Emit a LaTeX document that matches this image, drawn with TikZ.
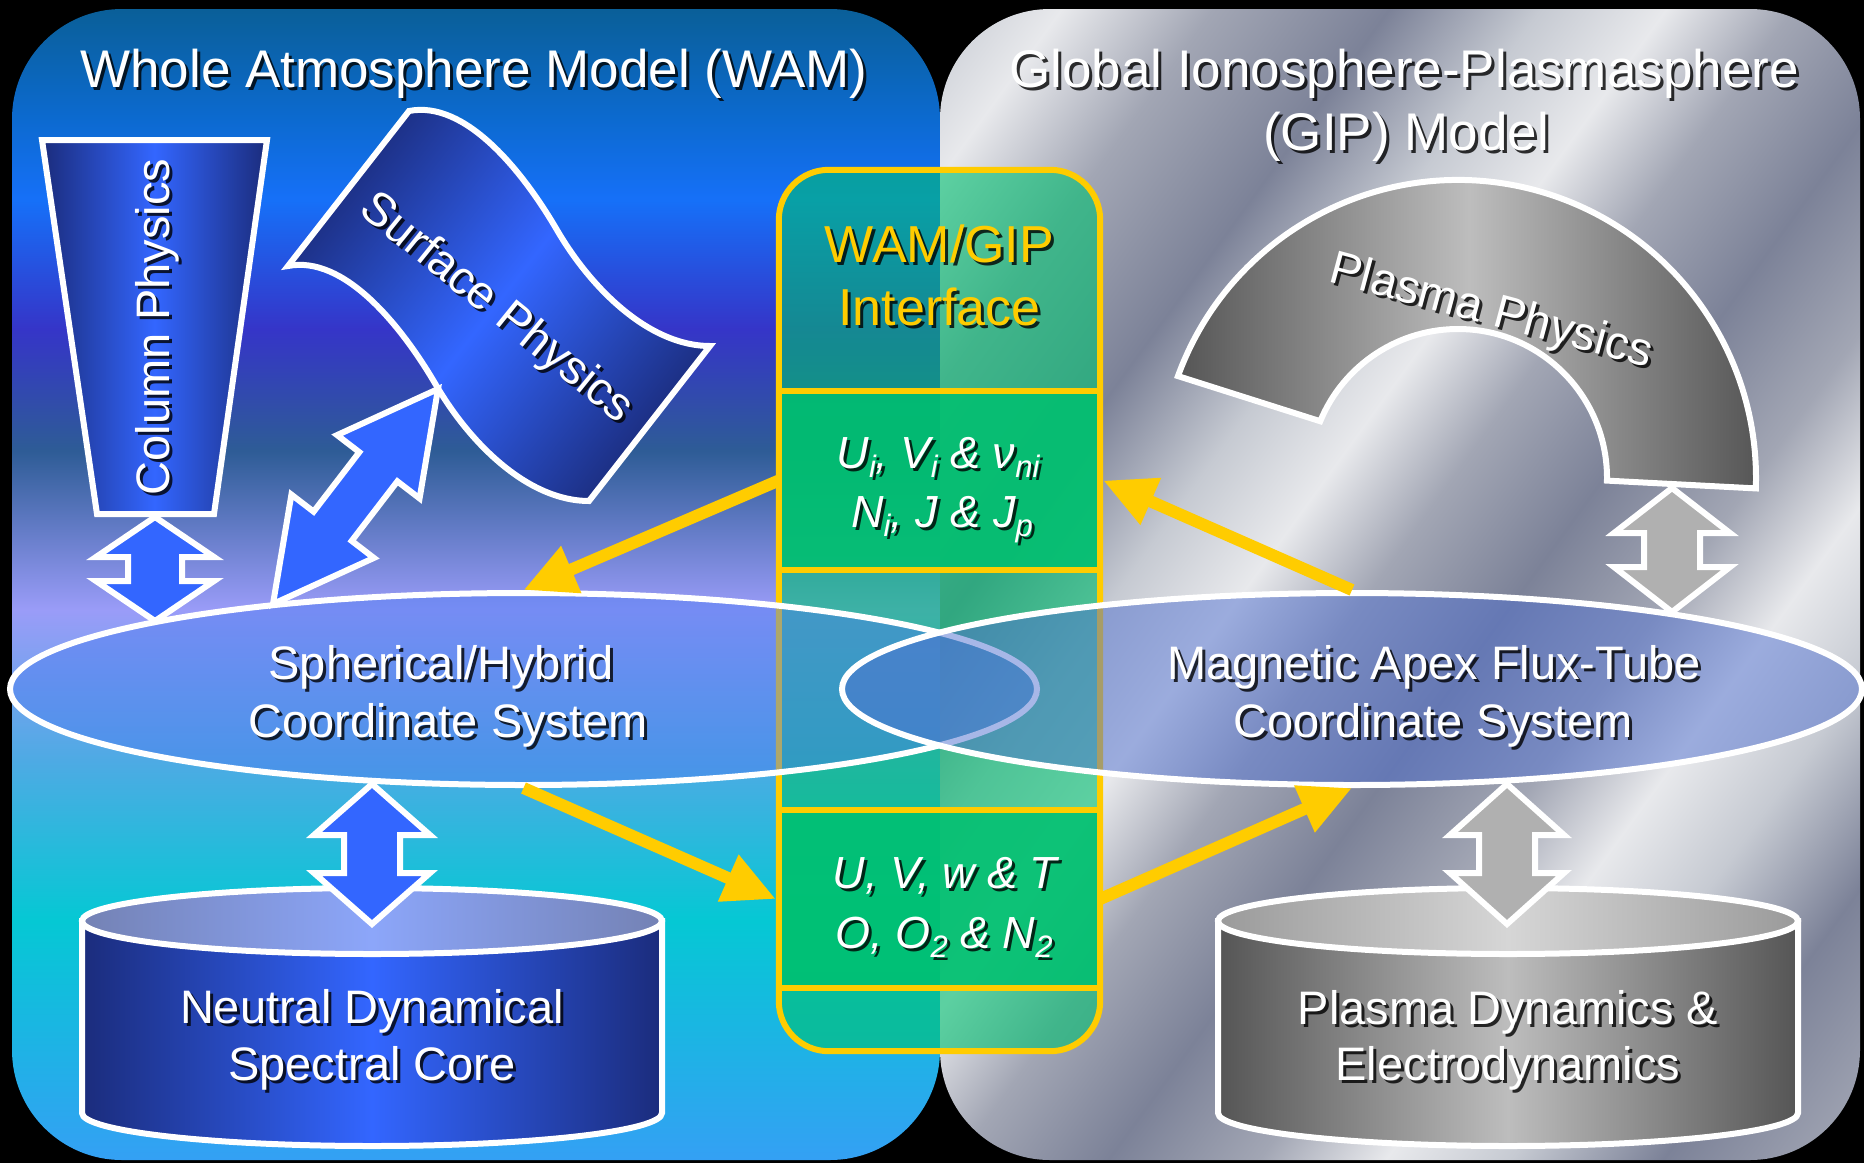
\documentclass[tikz,border=0pt]{standalone}
\usepackage{fontspec}
\setmainfont{Liberation Sans}
\usetikzlibrary{calc,arrows.meta,shapes.geometric}

% panel colours
\definecolor{lbA}{HTML}{0A5F98}
\definecolor{lbB}{HTML}{0C6AD0}
\definecolor{lbC}{HTML}{1670F8}
\definecolor{lbD}{HTML}{3535C8}
\definecolor{lbE}{HTML}{2E5C96}
\definecolor{lbF}{HTML}{9A9CF8}
\definecolor{lbG}{HTML}{4EAAE4}
\definecolor{lbH}{HTML}{05C8D4}
\definecolor{lbI}{HTML}{34A0F4}
\definecolor{metA}{HTML}{A2A6B4}
\definecolor{metB}{HTML}{7C8298}
\definecolor{metC}{HTML}{C6CAD2}
\definecolor{metD}{HTML}{E8E9EC}
% object colours
\definecolor{navyE}{HTML}{1B2C7C}
\definecolor{brightB}{HTML}{3366FF}
\definecolor{lidE}{HTML}{7482B4}
\definecolor{lidC}{HTML}{8CA6FA}
\definecolor{grayE}{HTML}{555555}
\definecolor{grayC}{HTML}{BDBDBD}
\definecolor{glidE}{HTML}{9A9A9A}
\definecolor{glidC}{HTML}{D6D6D6}
\definecolor{arrowblue}{HTML}{3366FF}
\definecolor{arrowgray}{HTML}{B0B0B0}
\definecolor{ifyellow}{HTML}{FFCC00}
\definecolor{ifgreen}{HTML}{00C070}
\definecolor{cellgreen}{HTML}{00C070}
\definecolor{lellfill}{HTML}{4A7AF0}
\definecolor{rellfill}{HTML}{5070D0}

\pgfdeclareverticalshading{wamback}{100bp}{color(0bp)=(lbI); color(25bp)=(lbI);
  color(35.4bp)=(lbH); color(42.4bp)=(lbG); color(48.9bp)=(lbF); color(55.8bp)=(lbE);
  color(61.1bp)=(lbD); color(66.7bp)=(lbC); color(70.2bp)=(lbB); color(75bp)=(lbA); color(100bp)=(lbA)}
\pgfdeclarehorizontalshading{metal}{100bp}{color(0bp)=(metA); color(8bp)=(metB);
  color(15bp)=(metC); color(20bp)=(metD); color(26bp)=(metA); color(33bp)=(metB);
  color(39bp)=(metC); color(44bp)=(metD); color(49bp)=(metA); color(55bp)=(metB);
  color(61bp)=(metA); color(66bp)=(metD); color(71bp)=(metC); color(77bp)=(metB);
  color(84bp)=(metA); color(90bp)=(metD); color(100bp)=(metC)}
\pgfdeclarehorizontalshading{bluebody}{100bp}{color(0bp)=(navyE); color(25bp)=(navyE);
  color(50bp)=(brightB); color(75bp)=(navyE); color(100bp)=(navyE)}
\pgfdeclarehorizontalshading{bluelid}{100bp}{color(0bp)=(lidE); color(25bp)=(lidE);
  color(50bp)=(lidC); color(75bp)=(lidE); color(100bp)=(lidE)}
\pgfdeclarehorizontalshading{graybody}{100bp}{color(0bp)=(grayE); color(25bp)=(grayE);
  color(50bp)=(grayC); color(75bp)=(grayE); color(100bp)=(grayE)}
\pgfdeclarehorizontalshading{graylid}{100bp}{color(0bp)=(glidE); color(25bp)=(glidE);
  color(50bp)=(glidC); color(75bp)=(glidE); color(100bp)=(glidE)}

\newcommand\ttlfont{\fontsize{53pt}{60pt}\selectfont}
\newcommand\ifcfont{\fontsize{52pt}{60pt}\selectfont}
\newcommand\bodyfont{\fontsize{47pt}{56pt}\selectfont}
\newcommand\qtyfont{\fontsize{45pt}{54pt}\selectfont\itshape}
\newcommand\lowsub[1]{\raisebox{-0.22em}{\fontsize{31pt}{31pt}\selectfont #1}}

% white label with a dark drop shadow: name, x,y, options, text
\newcommand\shadowtext[4]{%
  \node[#3,txtshadow] (#1-s) at ([shift={(3,3)}]#2) {#4};
  \node[txt,#3] (#1) at (#2) {#4};}

% block double arrow between two named points:
% style, end A, end B, head length, head half width, shaft half width
\newcommand\dblarrow[6]{%
  \path ($(#2)!#4!(#3)$) coordinate (dblP) ($(#3)!#4!(#2)$) coordinate (dblQ);
  \draw[#1] (#2) -- ($(dblP)!#5!90:(#3)$) -- ($(dblP)!#6!90:(#3)$)
    -- ($(dblQ)!#6!-90:(#2)$) -- ($(dblQ)!#5!-90:(#2)$) -- (#3)
    -- ($(dblQ)!#5!90:(#2)$) -- ($(dblQ)!#6!90:(#2)$)
    -- ($(dblP)!#6!-90:(#3)$) -- ($(dblP)!#5!-90:(#3)$) -- cycle;}

\begin{document}
\begin{tikzpicture}[x=1pt,y=-1pt,
  wline/.style={draw=white,line width=6pt,line join=miter},
  blockblue/.style={wline,fill=arrowblue},
  blockgray/.style={wline,fill=arrowgray},
  yarrow/.style={draw=ifyellow,line width=12pt,-{Triangle[length=52pt,width=48pt]}},
  ybord/.style={draw=ifyellow,line width=6pt},
  txt/.style={text=white,inner sep=0pt},
  txtshadow/.style={text=black,text opacity=0.8},
  ttl/.style={font=\ttlfont,anchor=base},
  lbl/.style={font=\bodyfont,anchor=base},
  rlbl/.style={font=\bodyfont,anchor=center},
  qty/.style={font=\qtyfont,anchor=base},
  ifc/.style={font=\ifcfont,anchor=base,text=ifyellow},
  cell/.style={rectangle,inner sep=0pt,minimum width=321pt,fill=cellgreen,fill opacity=0.85},
  lid/.style={ellipse,inner sep=0pt,minimum width=580pt,minimum height=66pt,wline,shade},
  coordsys/.style={ellipse,inner sep=0pt,minimum height=192pt,wline},
]
\useasboundingbox (0,0) rectangle (1864,1163);
\fill[black] (0,0) rectangle (1864,1163);

% the two model panels
\shade[shading=wamback,rounded corners=110pt] (12,9) rectangle (940,1160);
\shade[shading=metal,shading angle=-36,rounded corners=110pt] (940,9) rectangle (1860,1160);

% interface column
\node[rectangle,rounded corners=50pt,inner sep=0pt,minimum width=321pt,minimum height=881pt,
  fill=ifgreen,fill opacity=0.6] (iface) at (939.5,610.5) {};
\node[cell,minimum height=179pt] (cellA) at (939.5,480.5) {};
\node[cell,minimum height=178pt] (cellB) at (939.5,899) {};
\draw[ybord,rounded corners=50pt] (iface.north west) rectangle (iface.south east);
\draw[ybord] (cellA.north west) rectangle (cellA.south east);
\draw[ybord] (cellB.north west) rectangle (cellB.south east);

% coordinate-system ellipses
\node[coordsys,minimum width=1027pt,fill=lellfill,fill opacity=0.45] (lell) at (523.5,689) {};
\node[coordsys,minimum width=1020pt,fill=rellfill,fill opacity=0.5] (rell) at (1352,689) {};

% column physics
\draw[wline,shade,shading=bluebody] (42,140) -- (267,140) -- (214,514) -- (97,514) -- cycle;
% surface physics flag
\draw[wline,shade,shading=bluebody,shading angle=-38]
  (409,111) .. controls (465,100) and (522,170) .. (557,230)
  .. controls (592,290) and (650,346) .. (710,346) -- (589,501)
  .. controls (529,501) and (471,445) .. (436,385)
  .. controls (401,325) and (344,255) .. (288,266) -- cycle;
% plasma physics arch
\draw[wline,shade,shading=graybody]
  ($(1458,478)+(-160:298)$) arc[start angle=-160,end angle=2,radius=298]
  -- ($(1458,478)+(1:149)$) arc[start angle=1,end angle=-157.6,radius=149] -- cycle;

% cylinders
\draw[wline,shade,shading=bluebody] (82,921) -- (82,1113)
  arc[start angle=180,end angle=0,x radius=290,y radius=33] -- (662,921) -- cycle;
\node[lid,shading=bluelid] (corelid) at (372,921) {};
\draw[wline,shade,shading=graybody] (1218,921) -- (1218,1113)
  arc[start angle=180,end angle=0,x radius=290,y radius=33] -- (1798,921) -- cycle;
\node[lid,shading=graylid] (plasmalid) at (1508,921) {};

% block arrow ends
\coordinate (colfoot) at (155,517);
\coordinate (lellcol) at (155,621);
\coordinate (sfoot) at (438,389);
\coordinate (lellsf) at (273,604);
\coordinate (lellcore) at (372,784);
\coordinate (coretop) at (372,924);
\coordinate (archfoot) at (1672,488);
\coordinate (rellarch) at (1672,612);
\coordinate (rellcore) at (1507,784);
\coordinate (plasmatop) at (1507,924);

\dblarrow{blockblue}{colfoot}{lellcol}{40pt}{59pt}{27pt}
\dblarrow{blockblue}{sfoot}{lellsf}{98pt}{52pt}{24pt}
\dblarrow{blockblue}{lellcore}{coretop}{51pt}{58pt}{28pt}
\dblarrow{blockgray}{archfoot}{rellarch}{45pt}{58pt}{28pt}
\dblarrow{blockgray}{rellcore}{plasmatop}{51pt}{57pt}{28pt}

% exchange through the interface
\draw[yarrow] (cellA.west) -- (lell.north);
\draw[yarrow] (rell.north) -- ([xshift=3pt]cellA.east);
\draw[yarrow] (lell.south) -- ([xshift=-3pt]cellB.west);
\draw[yarrow] (cellB.east) -- (rell.south);

% labels
\shadowtext{ttlL}{474,87}{ttl}{Whole Atmosphere Model (WAM)}
\shadowtext{ttlR}{1404,87}{ttl}{Global Ionosphere-Plasmasphere}
\shadowtext{ttlRb}{1406,150}{ttl}{(GIP) Model}
\shadowtext{ifcA}{939.5,262}{ifc}{WAM/GIP}
\shadowtext{ifcB}{939.5,325}{ifc}{Interface}
\shadowtext{colT}{157,327}{rlbl,rotate=90}{Column Physics}
\shadowtext{surfT}{496,309}{rlbl,rotate=-39}{Surface Physics}
\shadowtext{plasT}{1491,313}{rlbl,rotate=-15}{Plasma Physics}
\shadowtext{sphA}{441,679}{lbl}{Spherical/Hybrid}
\shadowtext{sphB}{448,737}{lbl}{Coordinate System}
\shadowtext{magA}{1434,679}{lbl}{Magnetic Apex Flux-Tube}
\shadowtext{magB}{1433,737}{lbl}{Coordinate System}
\shadowtext{ndcA}{372,1023}{lbl}{Neutral Dynamical}
\shadowtext{ndcB}{372,1080}{lbl}{Spectral Core}
\shadowtext{pdeA}{1508,1024}{lbl}{Plasma Dynamics \&}
\shadowtext{pdeB}{1508,1080}{lbl}{Electrodynamics}
\shadowtext{qA}{938,468}{qty}{U\lowsub{i}, V\lowsub{i} \& ν\lowsub{ni}}
\shadowtext{qB}{942,527}{qty}{N\lowsub{i}, J \& J\lowsub{p}}
\shadowtext{qC}{945,888}{qty}{U, V, w \& T}
\shadowtext{qD}{944,948}{qty}{O, O\lowsub{2} \& N\lowsub{2}}
\end{tikzpicture}
\end{document}
